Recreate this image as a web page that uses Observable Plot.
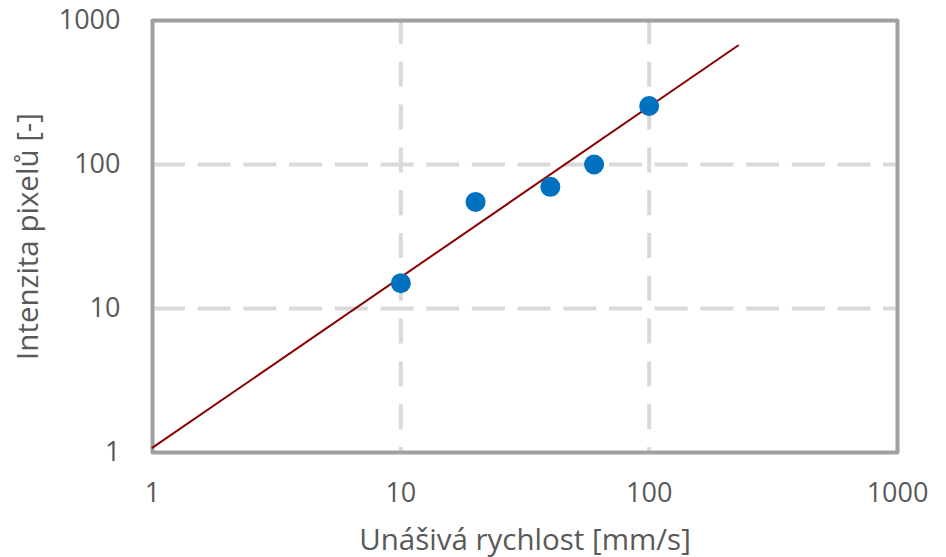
<!DOCTYPE html>
<html>
<head>
<meta charset="utf-8">
<script src="https://cdn.jsdelivr.net/npm/d3@7"></script>
<script src="https://cdn.jsdelivr.net/npm/@observablehq/plot@0.6"></script>
<style>
  html, body { margin: 0; padding: 0; background: #fff; }
  #chart svg { display: block; }
</style>
</head>
<body>
<div id="chart"></div>
<script>
// Data
const speed = [10, 20, 40, 60, 100];          // Unášivá rychlost [mm/s]
const intensity = [15, 55, 70, 100, 255];     // Intenzita pixelů [-]
const trendX = [1, 228];                      // power-law trendline endpoints
const trendY = [1.08, 670];
const xTicks = [1, 10, 100, 1000];
const yTicks = [1, 10, 100, 1000];
const xLabel = "Unášivá rychlost [mm/s]";
const yLabel = "Intenzita pixelů [-]";

const points = speed.map((s, i) => ({x: s, y: intensity[i]}));
const trend = trendX.map((x, i) => ({x, y: trendY[i]}));

const font = "'Open Sans', sans-serif";
const textColor = "#595959";

const chart = Plot.plot({
  width: 946,
  height: 557,
  marginLeft: 152,
  marginRight: 49,
  marginTop: 20,
  marginBottom: 105,
  style: {fontFamily: font, color: textColor, background: "#fff", overflow: "visible"},
  x: {type: "log", domain: [1, 1000]},
  y: {type: "log", domain: [1, 1000]},
  marks: [
    // gridlines
    Plot.ruleX([10, 100], {x: d => d, y1: 1000, y2: 1, stroke: "#d9d9d9", strokeWidth: 4, strokeDasharray: "25,17.8", strokeDashoffset: 1}),
    Plot.ruleY([10, 100], {y: d => d, x1: 1, x2: 1000, stroke: "#d9d9d9", strokeWidth: 4, strokeDasharray: "33,12.7"}),
    Plot.frame({stroke: "#a0a0a0", strokeWidth: 4, strokeLinejoin: "round"}),
    Plot.axisX({ticks: xTicks, tickSize: 0, tickPadding: 30, tickFormat: d => String(d), fontSize: 27, fill: textColor,
      label: xLabel, labelAnchor: "center", labelArrow: "none", labelOffset: 97}),
    Plot.axisY({ticks: yTicks, tickSize: 0, tickPadding: 32, tickFormat: d => String(d), fontSize: 27, fill: textColor,
      label: yLabel, labelAnchor: "center", labelArrow: "none", labelOffset: 135}),
    Plot.line(trend, {x: "x", y: "y", stroke: "#8b0000", strokeWidth: 2}),
    Plot.dot(points, {x: "x", y: "y", r: 10, fill: "#0070c0", stroke: "none"})
  ]
});

// axis label font size
chart.querySelectorAll("g[aria-label='x-axis label'] text, g[aria-label='y-axis label'] text").forEach(t => {
  t.setAttribute("font-size", 29.5);
});
document.getElementById("chart").appendChild(chart);
</script>
</body>
</html>
